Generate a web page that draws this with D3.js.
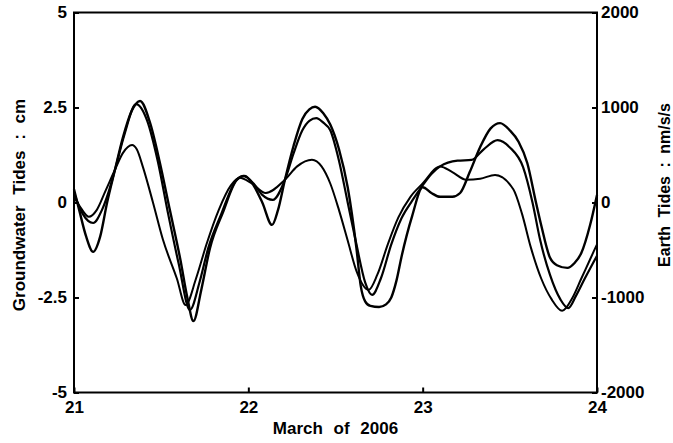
<!DOCTYPE html>
<html>
<head>
<meta charset="utf-8">
<script src="https://cdn.jsdelivr.net/npm/d3@7"></script>
<style>
  body { margin: 0; background: #fff; }
  svg text { font-family: "Liberation Sans", Arial, sans-serif; font-weight: bold; fill: #000; }
</style>
</head>
<body>
<svg id="chart" width="673" height="443"></svg>
<script>
// x tick labels (day of March 2006)
const dayTicks = [21, 22, 23, 24];
const cmTicks = [-5, -2.5, 0, 2.5, 5];
const nmTicks = [-2000, -1000, 0, 1000, 2000];

// groundwater tides, well A (largest swing, noisy) - cm
const wellADays = [21.0, 21.03, 21.07, 21.11, 21.15, 21.19, 21.235, 21.28, 21.33, 21.379, 21.436, 21.49, 21.55, 21.61, 21.65, 21.685, 21.73, 21.78, 21.855, 21.935, 21.98, 22.03, 22.08, 22.136, 22.17, 22.21, 22.26, 22.31, 22.35, 22.383, 22.43, 22.47, 22.52, 22.57, 22.62, 22.645, 22.67, 22.7, 22.75, 22.79, 22.82, 22.85, 22.88, 22.94, 23.0, 23.05, 23.1, 23.17, 23.215, 23.27, 23.33, 23.39, 23.444, 23.5, 23.55, 23.6, 23.65, 23.68, 23.73, 23.77, 23.83, 23.87, 23.91, 23.96, 24.0];
const wellACm = [0.35, -0.2, -0.9, -1.3, -0.9, 0.0, 0.86, 1.7, 2.4, 2.67, 2.1, 1.1, -0.2, -1.5, -2.5, -3.12, -2.3, -1.2, -0.25, 0.6, 0.7, 0.45, 0.0, -0.59, -0.2, 0.6, 1.5, 2.2, 2.45, 2.52, 2.35, 2.05, 1.4, 0.4, -1.2, -2.2, -2.6, -2.72, -2.75, -2.68, -2.5, -2.05, -1.4, -0.35, 0.4, 0.25, 0.15, 0.15, 0.25, 0.8, 1.46, 1.95, 2.09, 1.9, 1.6, 1.04, 0.0, -0.6, -1.45, -1.65, -1.72, -1.6, -1.33, -0.6, 0.2];

// groundwater tides, well B (middle curve) - cm
const wellBDays = [21.0, 21.05, 21.11, 21.16, 21.2, 21.235, 21.29, 21.356, 21.42, 21.48, 21.54, 21.6, 21.665, 21.72, 21.77, 21.845, 21.925, 21.97, 22.03, 22.08, 22.14, 22.21, 22.26, 22.31, 22.35, 22.39, 22.43, 22.47, 22.52, 22.57, 22.62, 22.67, 22.71, 22.76, 22.82, 22.88, 22.94, 23.0, 23.05, 23.1, 23.2, 23.28, 23.35, 23.43, 23.5, 23.576, 23.63, 23.674, 23.73, 23.79, 23.835, 23.88, 23.93, 24.0];
const wellBCm = [0.25, -0.3, -0.54, -0.2, 0.3, 0.86, 1.8, 2.59, 2.15, 1.1, -0.3, -1.6, -2.83, -2.1, -1.2, -0.3, 0.55, 0.7, 0.5, 0.2, 0.07, 0.6, 1.3, 1.9, 2.15, 2.22, 2.1, 1.9, 1.1, 0.0, -1.1, -2.1, -2.43, -2.0, -1.1, -0.4, 0.05, 0.45, 0.75, 0.95, 1.1, 1.12, 1.4, 1.64, 1.45, 0.93, 0.0, -0.99, -1.9, -2.55, -2.78, -2.45, -2.0, -1.4];

// earth tides (smooth curve) - nm/s/s
const earthDays = [21.0, 21.04, 21.085, 21.13, 21.18, 21.235, 21.28, 21.333, 21.36, 21.396, 21.453, 21.51, 21.59, 21.64, 21.7, 21.76, 21.83, 21.9, 21.95, 22.02, 22.1, 22.21, 22.28, 22.365, 22.42, 22.47, 22.52, 22.57, 22.62, 22.69, 22.74, 22.8, 22.86, 22.93, 23.0, 23.1, 23.17, 23.25, 23.33, 23.415, 23.52, 23.57, 23.62, 23.68, 23.74, 23.8, 23.86, 23.91, 23.96, 24.0];
const earthNm = [60, -60, -150, -80, 120, 345, 520, 605, 560, 370, 0, -390, -800, -1080, -800, -440, -80, 180, 260, 200, 100, 240, 380, 450, 380, 200, -80, -400, -720, -920, -760, -440, -160, 60, 200, 380, 320, 240, 250, 290, 140, -120, -470, -800, -1020, -1140, -1000, -800, -600, -440];

const svg = d3.select("#chart");
const margin = { top: 12.5, right: 76, bottom: 50.5, left: 74 };
const width = +svg.attr("width") - margin.left - margin.right;
const height = +svg.attr("height") - margin.top - margin.bottom;
const g = svg.append("g").attr("transform", `translate(${margin.left},${margin.top})`);

const x = d3.scaleLinear().domain([21, 24]).range([0, width]);
const yL = d3.scaleLinear().domain([-5, 5]).range([height, 0]);
const yR = d3.scaleLinear().domain([-2000, 2000]).range([height, 0]);

// lines
const lineCm = d3.line().x(d => x(d[0])).y(d => yL(d[1])).curve(d3.curveMonotoneX);
const lineNm = d3.line().x(d => x(d[0])).y(d => yR(d[1])).curve(d3.curveMonotoneX);

g.append("path")
    .datum(d3.zip(earthDays, earthNm))
    .attr("d", lineNm)
    .attr("fill", "none").attr("stroke", "#000").attr("stroke-width", 2);
g.append("path")
    .datum(d3.zip(wellBDays, wellBCm))
    .attr("d", lineCm)
    .attr("fill", "none").attr("stroke", "#000").attr("stroke-width", 2.2);
g.append("path")
    .datum(d3.zip(wellADays, wellACm))
    .attr("d", lineCm)
    .attr("fill", "none").attr("stroke", "#000").attr("stroke-width", 2.4);

// axes, ticks inward
const fmt = d => String(d);
const xAxis = g.append("g").attr("transform", `translate(0,${height})`)
    .call(d3.axisBottom(x).tickValues(dayTicks).tickSize(-5).tickPadding(8).tickFormat(fmt));
const yAxisL = g.append("g")
    .call(d3.axisLeft(yL).tickValues(cmTicks).tickSize(-5).tickPadding(7).tickFormat(fmt));
const yAxisR = g.append("g").attr("transform", `translate(${width},0)`)
    .call(d3.axisRight(yR).tickValues(nmTicks).tickSize(-5).tickPadding(4).tickFormat(fmt));

[xAxis, yAxisL, yAxisR].forEach(a => {
    a.select(".domain").remove();
    a.selectAll("line").attr("stroke", "#000").attr("stroke-width", 2);
    a.selectAll("text").style("font-size", "17px").style("font-family", "'Liberation Sans', Arial, sans-serif").style("font-weight", "bold");
});

// frame
g.append("rect")
    .attr("width", width).attr("height", height)
    .attr("fill", "none").attr("stroke", "#000").attr("stroke-width", 2);

// axis titles
svg.append("text")
    .attr("x", margin.left + width / 2).attr("y", 434)
    .attr("text-anchor", "middle")
    .style("font-size", "17px").style("word-spacing", "6px")
    .text("March of 2006");

svg.append("text")
    .attr("transform", "translate(25,205) rotate(-90)")
    .attr("text-anchor", "middle")
    .style("font-size", "17px").style("word-spacing", "6px")
    .text("Groundwater Tides : cm");

svg.append("text")
    .attr("transform", "translate(670,185) rotate(-90)")
    .attr("text-anchor", "middle")
    .style("font-size", "16px").style("word-spacing", "4px")
    .text("Earth Tides : nm/s/s");
</script>
</body>
</html>
